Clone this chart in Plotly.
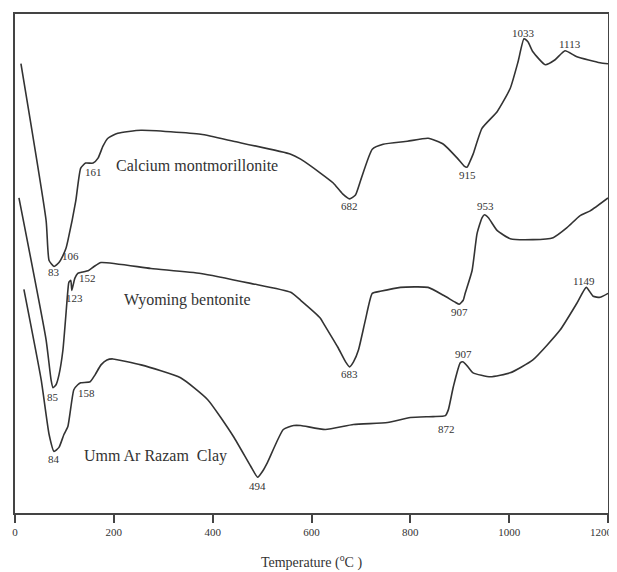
import plotly.graph_objects as go

# Temperature (°C) and DTA signal (arbitrary units)
ca_T = [12, 63, 69, 79, 89, 97, 103, 107, 123, 133, 143, 158, 168, 178, 188, 208, 255, 376, 442, 558, 578, 618, 644, 663, 677, 689, 699, 723, 745, 794, 836, 867, 895, 909, 915, 921, 927, 945, 976, 1002, 1018, 1030, 1038, 1048, 1073, 1093, 1113, 1137, 1184, 1200]
ca_S = [452, 294, 254, 248, 252, 259, 266, 274, 314, 347, 352, 352, 357, 369, 377, 382, 385, 381, 374, 361, 356, 342, 332, 321, 316, 320, 334, 366, 371, 374, 377, 371, 357, 349, 348, 354, 361, 387, 404, 427, 454, 477, 474, 464, 451, 456, 465, 459, 453, 452]

wy_T = [8, 63, 73, 77, 83, 89, 97, 107, 109, 113, 115, 121, 127, 133, 149, 160, 174, 275, 376, 477, 558, 578, 618, 624, 653, 669, 677, 685, 695, 709, 723, 739, 780, 836, 867, 891, 899, 907, 911, 925, 935, 945, 950, 958, 976, 1002, 1048, 1089, 1117, 1143, 1164, 1200]
wy_S = [317, 174, 134, 126, 129, 139, 164, 224, 232, 234, 224, 236, 241, 242, 244, 248, 252, 246, 241, 231, 222, 214, 196, 191, 167, 152, 147, 152, 164, 194, 221, 223, 227, 227, 219, 212, 210, 214, 221, 244, 281, 297, 300, 297, 284, 276, 275, 277, 287, 299, 304, 317]

um_T = [18, 53, 69, 79, 89, 99, 107, 119, 127, 133, 152, 162, 174, 186, 198, 255, 335, 390, 442, 477, 491, 501, 511, 543, 564, 578, 628, 685, 754, 800, 846, 871, 877, 887, 901, 907, 915, 927, 962, 1002, 1048, 1103, 1137, 1156, 1170, 1184, 1200]
um_S = [225, 134, 79, 62, 66, 79, 87, 124, 129, 131, 132, 139, 149, 154, 155, 149, 136, 114, 77, 47, 36, 42, 51, 84, 88, 88, 84, 89, 91, 96, 97, 98, 104, 127, 151, 152, 148, 141, 137, 141, 154, 184, 211, 227, 218, 217, 221]

peak_text = ["83", "106", "161", "682", "915", "1033", "1113",
             "85", "123", "152", "683", "907", "953",
             "84", "158", "494", "872", "907", "1149"]
peak_T = [79, 113, 158, 677, 915, 1030, 1123,
          77, 121, 147, 677, 899, 952,
          79, 145, 491, 873, 907, 1152]
peak_S = [242, 259, 343, 309, 340, 483, 472,
          117, 216, 236, 140, 202, 309,
          54, 121, 27, 85, 160, 233]

names = ["Calcium montmorillonite", "Wyoming bentonite", "Umm Ar Razam\u00a0 Clay"]
name_T = [368, 350, 285]
name_S = [350, 214, 57]

x_ticks = [0, 200, 400, 600, 800, 1000, 1200]
x_tick_text = ["0", "200", "400", "600", "800", "1000", ""]   # last label drawn separately so it stays inside the page
last_tick_label = "1200"

ink = "#333333"
fig = go.Figure()
for T, S, nm in [(ca_T, ca_S, names[0]), (wy_T, wy_S, names[1]), (um_T, um_S, names[2])]:
    fig.add_trace(go.Scatter(x=T, y=S, mode="lines", name=nm,
                             line=dict(color=ink, width=1.6, shape="spline", smoothing=0.5),
                             showlegend=False, hoverinfo="skip"))

for t, x, y in zip(peak_text, peak_T, peak_S):
    fig.add_annotation(x=x, y=y, text=t, showarrow=False,
                       font=dict(family="Liberation Serif", size=11, color=ink))
for t, x, y in zip(names, name_T, name_S):
    fig.add_annotation(x=x, y=y, text=t, showarrow=False,
                       font=dict(family="Liberation Serif", size=16, color=ink))

fig.add_annotation(x=x_ticks[-1], y=0, yref="paper", yanchor="top", xanchor="right",
                   yshift=-11, xshift=7,
                   text=last_tick_label, showarrow=False,
                   font=dict(family="Liberation Serif", size=11, color=ink))

fig.update_layout(
    width=609, height=564,
    margin=dict(l=6, r=9, t=4, b=58),
    paper_bgcolor="white", plot_bgcolor="white",
    font=dict(family="Liberation Serif", size=11, color=ink),
    xaxis=dict(range=[0, 1200], tickvals=x_ticks, ticktext=x_tick_text, ticks="outside", ticklen=8,
               tickcolor="#444", tickwidth=1.5, showgrid=False, zeroline=False,
               showline=True, linecolor="#444", linewidth=1.5, mirror=True,
               tickfont=dict(family="Liberation Serif", size=11, color=ink),
               title=dict(text="Temperature (<sup>o</sup>C )",
                          font=dict(family="Liberation Serif", size=14, color=ink), standoff=20)),
    yaxis=dict(range=[0, 502], showticklabels=False, ticks="", showgrid=False,
               zeroline=False, showline=True, linecolor="#444", linewidth=1.5, mirror=True),
)
fig.write_html("out.html")
